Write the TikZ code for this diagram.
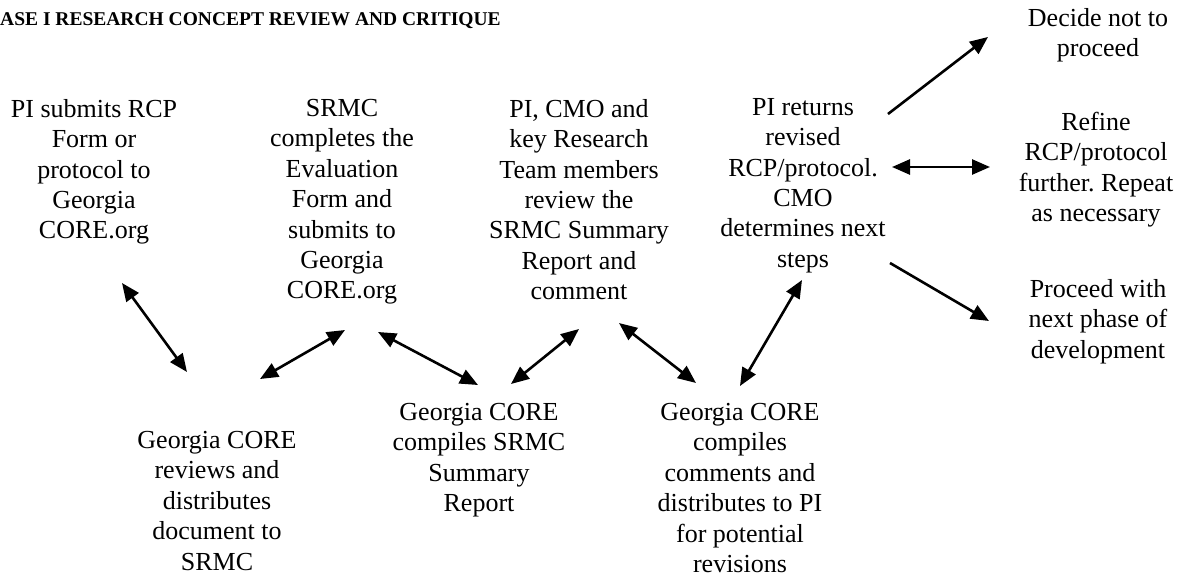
\documentclass[tikz,border=0pt]{standalone}
\usepackage{fontspec}
\setmainfont{Liberation Serif}
\usetikzlibrary{arrows.meta}
\frenchspacing
\begin{document}
\begin{tikzpicture}[x=1pt,y=-1pt,
  txt/.style={align=center,anchor=north,inner sep=0pt,font=\fontsize{26}{30.4}\selectfont\frenchspacing},
  ttl/.style={anchor=base west,inner sep=0pt,font=\fontsize{19.5}{23}\selectfont\bfseries},
  dbl/.style={line width=2.6pt,{Triangle[length=18pt,width=15pt]}-{Triangle[length=18pt,width=15pt]}},
  sgl/.style={line width=2.6pt,-{Triangle[length=18pt,width=15pt]}}]
\useasboundingbox (0,0) rectangle (1189,581);
\node[ttl] (title) at (0,25) {ASE I RESEARCH CONCEPT REVIEW AND CRITIQUE};
\node[txt] (n1) at (94,99) {PI submits RCP\\Form or\\protocol to\\Georgia\\CORE.org};
\node[txt] (n2) at (342,99) {SRMC\\completes the\\Evaluation\\Form and\\submits to\\Georgia\\CORE.org};
\node[txt] (n3) at (579,99) {PI, CMO and\\key Research\\Team members\\review the\\SRMC Summary\\Report and\\comment};
\node[txt] (n4) at (803,98) {PI returns\\revised\\RCP/protocol.\\CMO\\determines next\\steps};
\node[txt] (n5) at (1098,8) {Decide not to\\proceed};
\node[txt] (n6) at (1096,112) {Refine\\RCP/protocol\\further. Repeat\\as necessary};
\node[txt] (n7) at (1098,279) {Proceed with\\next phase of\\development};
\node[txt] (n8) at (217,431) {Georgia CORE\\reviews and\\distributes\\document to\\SRMC};
\node[txt] (n9) at (479,403) {Georgia CORE\\compiles SRMC\\Summary\\Report};
\node[txt] (n10) at (740,403) {Georgia CORE\\compiles\\comments and\\distributes to PI\\for potential\\revisions};
% arrow end points
\coordinate (a1s) at (122,283); \coordinate (a1e) at (187,372);
\coordinate (a2s) at (260,379); \coordinate (a2e) at (345,330);
\coordinate (a3s) at (378,332); \coordinate (a3e) at (478,385);
\coordinate (a4s) at (511,384); \coordinate (a4e) at (579,329);
\coordinate (a5s) at (619,323); \coordinate (a5e) at (696,383);
\coordinate (a6s) at (740,386); \coordinate (a6e) at (802,280);
\coordinate (a7s) at (888,114); \coordinate (a7e) at (988,37);
\coordinate (a8s) at (892,167); \coordinate (a8e) at (990,167);
\coordinate (a9s) at (890,263); \coordinate (a9e) at (989,321);
\draw[dbl] (a1s) -- (a1e);
\draw[dbl] (a2s) -- (a2e);
\draw[dbl] (a3s) -- (a3e);
\draw[dbl] (a4s) -- (a4e);
\draw[dbl] (a5s) -- (a5e);
\draw[dbl] (a6s) -- (a6e);
\draw[sgl] (a7s) -- (a7e);
\draw[dbl] (a8s) -- (a8e);
\draw[sgl] (a9s) -- (a9e);
\end{tikzpicture}
\end{document}
